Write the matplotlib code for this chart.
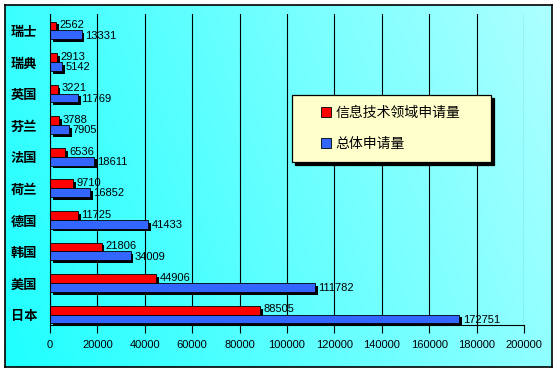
import numpy as np
import matplotlib
matplotlib.use('Agg')
import matplotlib.pyplot as plt
import matplotlib.patheffects as pe
from matplotlib.lines import Line2D

plt.rcParams['font.family'] = ['Noto Sans CJK SC', 'DejaVu Sans']

# 数据（自下而上）
countries = ['日本', '美国', '韩国', '德国', '荷兰', '法国', '芬兰', '英国', '瑞典', '瑞士']
it_apps = [88505, 44906, 21806, 11725, 9710, 6536, 3788, 3221, 2913, 2562]
total_apps = [172751, 111782, 34009, 41433, 16852, 18611, 7905, 11769, 5142, 13331]
xticks = [0, 20000, 40000, 60000, 80000, 100000, 120000, 140000, 160000, 180000, 200000]
legend_labels = ['信息技术领域申请量', '总体申请量']

W, H = 557, 371
fig = plt.figure(figsize=(W / 100, H / 100), dpi=100)
fig.patch.set_facecolor('white')

# 背景渐变 + 外框
bg = fig.add_axes([5 / W, 1 - 367 / H, 547 / W, 362 / H], zorder=0)
gx, gy = np.meshgrid(np.linspace(0, 1, 256), np.linspace(1, 0, 160))
t = np.clip(0.8 * gx + 0.2 * gy, 0, 1)
c0 = np.array([0.12, 1.0, 1.0])
c1 = np.array([0.68, 1.0, 1.0])
img = c0 * (1 - t[..., None]) + c1 * t[..., None]
bg.imshow(img, aspect='auto', extent=[0, 1, 0, 1])
bg.set_xticks([])
bg.set_yticks([])
for s in bg.spines.values():
    s.set_linewidth(1.2)
    s.set_color('black')

ax = fig.add_axes([50 / W, 1 - 325 / H, 474 / W, 311 / H], zorder=1)
ax.patch.set_alpha(0)

y = np.arange(len(countries))
h = 0.28
shadow = [pe.SimplePatchShadow(offset=(2, -2), shadow_rgbFace='black', alpha=1), pe.Normal()]
b1 = ax.barh(y + h / 2, it_apps, height=h, color='#FF0000', edgecolor='black', linewidth=0.6, zorder=3)
b2 = ax.barh(y - h / 2, total_apps, height=h, color='#3366FF', edgecolor='black', linewidth=0.6, zorder=3)
for b in list(b1) + list(b2):
    b.set_path_effects(shadow)

for yi, v in zip(y, it_apps):
    ax.annotate(str(v), (v, yi + h / 2), xytext=(2.5, 0.5), textcoords='offset points',
                va='center', ha='left', fontsize=8, family='Liberation Sans', zorder=4)
for yi, v in zip(y, total_apps):
    ax.annotate(str(v), (v, yi - h / 2), xytext=(2.5, -0.5), textcoords='offset points',
                va='center', ha='left', fontsize=8, family='Liberation Sans', zorder=4)

ax.set_xlim(0, 200000)
ax.set_ylim(-0.33, 9.52)
ax.set_xticks(xticks)
ax.set_xticklabels([str(t) for t in xticks], family='Liberation Sans', fontsize=8)
ax.set_yticks(y)
ax.set_yticklabels(countries, fontsize=9.5, fontweight='bold')
ax.tick_params(axis='y', length=0, pad=9)
ax.tick_params(axis='x', direction='out', length=6, width=0.8, pad=5)
ax.grid(axis='x', color='black', linewidth=0.8, zorder=1)
ax.set_axisbelow(True)
for side in ['top', 'right']:
    ax.spines[side].set_visible(False)
ax.spines['left'].set_linewidth(0.8)
ax.spines['bottom'].set_linewidth(0.8)
ax.spines['left'].set_zorder(5)

handles = [Line2D([], [], marker='s', linestyle='none', markersize=7,
                  markerfacecolor=c, markeredgecolor='black', markeredgewidth=0.6)
           for c in ['#FF0000', '#3366FF']]
leg = ax.legend(handles, legend_labels, loc='upper left',
                bbox_to_anchor=(292 / W, 1 - 95 / H, 199 / W, 0), bbox_transform=fig.transFigure,
                mode='expand', borderaxespad=0, fontsize=10, frameon=True, fancybox=False,
                facecolor='#FFFFCC', edgecolor='black', framealpha=1,
                shadow={'color': 'black', 'alpha': 1},
                borderpad=0.8, labelspacing=1.2, handlelength=3.3, handletextpad=-1.0)
leg.get_frame().set_linewidth(0.9)
leg.set_zorder(6)

fig.savefig('out.png', dpi=100)
